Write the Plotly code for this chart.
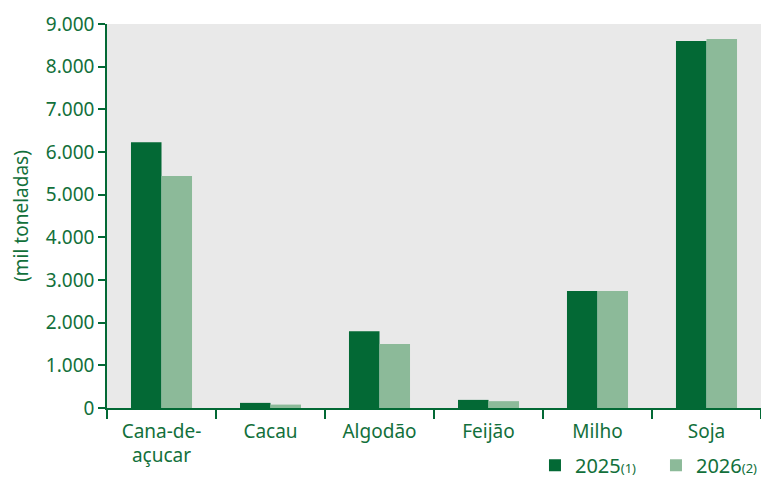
import plotly.graph_objects as go

categories = ["Cana-de-<br>açucar", "Cacau", "Algodão", "Feijão", "Milho", "Soja"]
values_2025 = [6230, 120, 1800, 190, 2740, 8600]
values_2026 = [5440, 80, 1500, 160, 2740, 8650]
y_ticks = [0, 1000, 2000, 3000, 4000, 5000, 6000, 7000, 8000, 9000]
series_names = ["2025<span style='font-size:13px'>(1)</span>",
                "2026<span style='font-size:13px'>(2)</span>"]

TXT = "#12703b"
DARK = "#036935"
LIGHT = "#8cba99"
FONT = "Noto Sans"

fig = go.Figure()
fig.add_trace(go.Bar(
    x=categories, y=values_2025, name=series_names[0],
    marker=dict(color=DARK, line=dict(width=0)),
))
fig.add_trace(go.Bar(
    x=categories, y=values_2026, name=series_names[1],
    marker=dict(color=LIGHT, line=dict(width=0)),
))

fig.update_layout(
    width=761, height=486,
    margin=dict(l=107, r=0, t=24, b=78, autoexpand=False),
    paper_bgcolor="white",
    plot_bgcolor="#e9e9e9",
    barmode="group",
    bargap=0.44,
    bargroupgap=0,
    separators=",.",
    font=dict(family=FONT, color=TXT, size=19),
    showlegend=True,
    legend=dict(
        orientation="h", x=0.6544, xanchor="left", y=-0.2, yanchor="bottom",
        font=dict(size=20, color=TXT), bgcolor="rgba(0,0,0,0)",
        itemwidth=30, traceorder="normal",
        entrywidth=76, entrywidthmode="pixels",
    ),
)
fig.update_xaxes(
    automargin=False,
    showline=True, linecolor=DARK, linewidth=1.5,
    ticks="outside", tickson="boundaries", ticklen=9, tickcolor=DARK, tickwidth=1.5,
    tickfont=dict(size=19, color=TXT), ticklabelstandoff=5,
    showgrid=False,
)
fig.update_yaxes(
    automargin=False,
    range=[0, 9000], tickvals=y_ticks, tickformat=",d",
    showline=True, linecolor=DARK, linewidth=1.5,
    ticks="outside", ticklen=7, tickcolor=DARK, tickwidth=1.5,
    tickfont=dict(size=19, color=TXT),
    showgrid=False, zeroline=False,
    title=dict(text="(mil toneladas)", font=dict(size=19, color=TXT), standoff=12),
)

fig.write_html(
    "out.html",
    config={"displayModeBar": False},
    post_script="document.body.style.margin='0';document.body.style.overflow='hidden';",
)
